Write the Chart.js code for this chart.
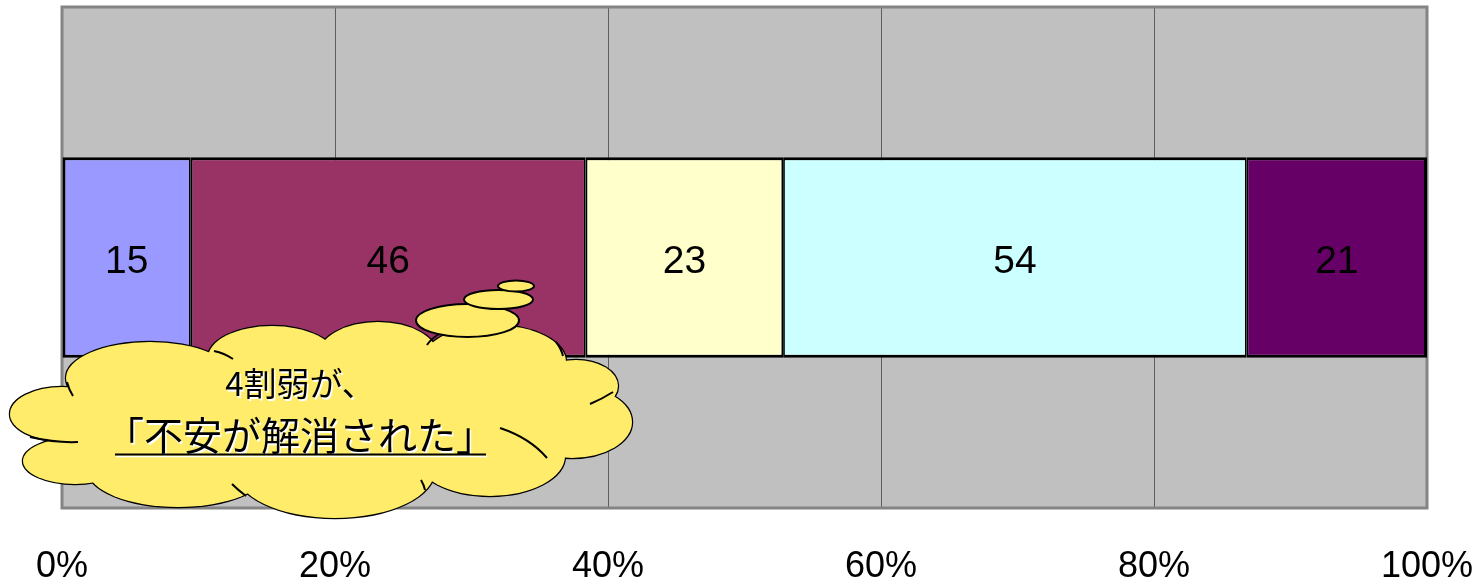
<!DOCTYPE html>
<html lang="ja">
<head>
<meta charset="utf-8">
<title>回答の内訳</title>
<script src="https://cdn.jsdelivr.net/npm/chart.js@4.4.1/dist/chart.umd.min.js"></script>
<style>
  html, body { margin: 0; padding: 0; background: #fff; }
  #wrap { width: 1480px; height: 586px; }
</style>
</head>
<body>
<div id="wrap"><canvas id="chart" width="1480" height="586"></canvas></div>
<script>
// ---------- Data ----------
const categories = ['回答'];
const segmentNames = ['区分1', '区分2', '区分3', '区分4', '区分5'];
const segmentCounts = [15, 46, 23, 54, 21];
const segmentColors = ['#9999ff', '#993366', '#ffffcc', '#ccffff', '#660066'];
const tickValues = [0, 20, 40, 60, 80, 100];
const calloutLines = ['4割弱が、', '「不安が解消された」'];

// 100% stacked: each segment as share of the total
const total = segmentCounts.reduce((a, b) => a + b, 0);
const toPct = (n) => n / total * 100;

const LATIN = "'Liberation Sans', Arial, sans-serif";
const JP = "'Noto Sans CJK JP', 'Noto Sans CJK SC', sans-serif";

// ---------- Callout shape (thought cloud), canvas px ----------
const CLOUD_FILL = '#ffec6a';
const cloudBumps = [
  [62, 414, 52, 27], [75, 461, 52, 23], [150, 378, 84, 36], [272, 358, 64, 32],
  [378, 356, 60, 34], [494, 362, 72, 37], [576, 386, 42, 26], [572, 422, 60, 36],
  [490, 456, 75, 40], [335, 470, 100, 48], [178, 470, 90, 37]
];
const cloudCore = [320, 420, 250, 62];
const cloudTails = [
  [[67, 382], [69, 390], [73, 396]],
  [[30, 437], [56, 443], [78, 442]],
  [[214, 351], [224, 353], [233, 359]],
  [[427, 345], [431, 339], [439, 334]],
  [[556, 342], [561, 348], [563, 356]],
  [[590, 404], [602, 399], [613, 392]],
  [[500, 428], [530, 438], [547, 458]],
  [[421, 480], [424, 485], [425, 490]],
  [[232, 484], [238, 490], [246, 496]]
];
const thoughtBubbles = [[467.5, 320.5, 51.5, 16.5], [498.5, 299.5, 34.5, 9.5], [516, 286, 18, 5.5]];

// ---------- Plugins ----------
const plotBackground = {
  id: 'plotBackground',
  beforeDraw(chart) {
    const { ctx, chartArea: a } = chart;
    ctx.save();
    ctx.fillStyle = '#c0c0c0';
    ctx.fillRect(a.left, a.top, a.right - a.left, a.bottom - a.top);
    ctx.restore();
  }
};

const plotFrame = {
  id: 'plotFrame',
  beforeDatasetsDraw(chart) {
    const { ctx, chartArea: a } = chart;
    ctx.save();
    ctx.strokeStyle = '#848484';
    ctx.lineWidth = 3;
    ctx.strokeRect(a.left, a.top, a.right - a.left, a.bottom - a.top);
    ctx.restore();
  }
};

const segmentLabels = {
  id: 'segmentLabels',
  afterDatasetsDraw(chart) {
    const { ctx } = chart;
    ctx.save();
    ctx.font = '39px ' + LATIN;
    ctx.fillStyle = '#000';
    ctx.textAlign = 'center';
    ctx.textBaseline = 'middle';
    chart.data.datasets.forEach((ds, i) => {
      const bar = chart.getDatasetMeta(i).data[0];
      const p = bar.getCenterPoint();
      ctx.fillText(String(segmentCounts[i]), p.x, p.y + 5);
    });
    ctx.restore();
  }
};

function ellipsePath(ctx, e) {
  ctx.beginPath();
  ctx.ellipse(e[0], e[1], e[2], e[3], 0, 0, Math.PI * 2);
}

const callout = {
  id: 'callout',
  afterDraw(chart) {
    const { ctx } = chart;
    ctx.save();
    ctx.strokeStyle = '#000';
    ctx.lineWidth = 2.4;
    // outline first, then fill over it so only the outer rim stays
    cloudBumps.forEach(b => { ellipsePath(ctx, b); ctx.stroke(); });
    ctx.fillStyle = CLOUD_FILL;
    cloudBumps.forEach(b => { ellipsePath(ctx, b); ctx.fill(); });
    ellipsePath(ctx, cloudCore); ctx.fill();

    ctx.lineWidth = 2;
    cloudTails.forEach(t => {
      ctx.beginPath();
      ctx.moveTo(t[0][0], t[0][1]);
      ctx.quadraticCurveTo(t[1][0], t[1][1], t[2][0], t[2][1]);
      ctx.stroke();
    });

    thoughtBubbles.forEach(b => {
      ellipsePath(ctx, b);
      ctx.fill();
      ctx.stroke();
    });

    // text with a light drop shadow
    ctx.textAlign = 'center';
    ctx.textBaseline = 'alphabetic';
    const lines = [
      { text: calloutLines[0], font: '33px ' + JP, y: 396 },
      { text: calloutLines[1], font: '39px ' + JP, y: 450 }
    ];
    lines.forEach(l => {
      ctx.font = l.font;
      ctx.fillStyle = '#fff';
      ctx.fillText(l.text, 301.5, l.y + 1.5);
      ctx.fillStyle = '#000';
      ctx.fillText(l.text, 300, l.y);
    });

    // underline on the second line
    ctx.strokeStyle = '#fff';
    ctx.lineWidth = 1.5;
    ctx.beginPath(); ctx.moveTo(116, 456.5); ctx.lineTo(487, 456.5); ctx.stroke();
    ctx.strokeStyle = '#000';
    ctx.lineWidth = 2;
    ctx.beginPath(); ctx.moveTo(115, 454.5); ctx.lineTo(486, 454.5); ctx.stroke();
    ctx.restore();
  }
};

// ---------- Chart ----------
const lastIdx = segmentCounts.length - 1;
const datasets = segmentCounts.map((n, i) => ({
  label: segmentNames[i],
  data: [toPct(n)],
  backgroundColor: segmentColors[i],
  borderColor: '#000',
  borderWidth: { top: 3, bottom: 3, left: i === 0 ? 3 : 1.75, right: i === lastIdx ? 3 : 1.75 },
  borderSkipped: false,
  categoryPercentage: 0.4,
  barPercentage: 1.0
}));

new Chart(document.getElementById('chart'), {
  type: 'bar',
  data: { labels: categories, datasets },
  options: {
    indexAxis: 'y',
    responsive: false,
    animation: false,
    layout: { padding: { left: 62, right: 53, top: 7, bottom: 0 } },
    plugins: { legend: { display: false }, tooltip: { enabled: false } },
    scales: {
      x: {
        stacked: true,
        min: 0,
        max: 100,
        afterBuildTicks: (axis) => { axis.ticks = tickValues.map(v => ({ value: v })); },
        afterFit: (axis) => {
          axis.height = 78;
          axis.paddingLeft = 0;
          axis.paddingRight = 0;
        },
        ticks: {
          color: '#000',
          padding: 41,
          font: { family: LATIN, size: 36, lineHeight: 1 },
          maxRotation: 0,
          autoSkip: false,
          callback: (v) => v + '%'
        },
        grid: { color: '#5e5e5e', lineWidth: 1, drawTicks: false },
        border: { display: false }
      },
      y: {
        stacked: true,
        display: false
      }
    }
  },
  plugins: [plotBackground, plotFrame, segmentLabels, callout]
});
</script>
</body>
</html>
